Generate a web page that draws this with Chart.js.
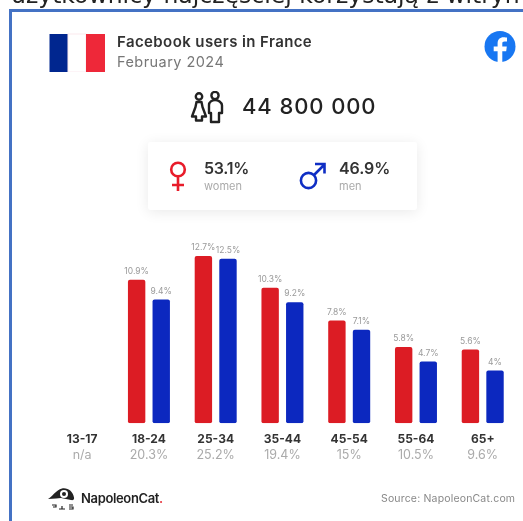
<!DOCTYPE html>
<html><head><meta charset="utf-8">
<script src="https://cdn.jsdelivr.net/npm/chart.js@4"></script>
<style>
html,body{margin:0;padding:0;background:#fff;width:523px;height:521px;overflow:hidden}
#page{position:relative;width:523px;height:521px;overflow:hidden;filter:blur(0.45px);font-family:Inter,"Open Sans",sans-serif}
#page>*{position:absolute}
.t{white-space:nowrap;line-height:1}
canvas{left:0;top:0}
</style></head><body>
<div id="page">
<canvas id="c" width="523" height="521"></canvas>
<div class="t" style="left:11px;top:-17px;font:23.5px 'DejaVu Sans',sans-serif;color:#222;line-height:24px">użytkownicy najczęściej korzystają z witryn</div>
<div style="left:9px;top:9px;width:514px;height:3px;background:#4472c4"></div>
<div style="left:9px;top:9px;width:3px;height:512px;background:#4472c4"></div>
<svg style="left:49px;top:33px" width="57" height="39"><rect x="0.5" y="1" width="19" height="38" fill="#00268f"/><rect x="19" y="1" width="18" height="38" fill="#fff" stroke="#fbe9ee" stroke-width="1"/><rect x="37" y="1" width="19" height="38" fill="#ee2839"/></svg>
<div class="t" id="title" style="left:117px;top:34px;font-size:15px;font-weight:600;color:#333;letter-spacing:.4px">Facebook users in France</div>
<div class="t" id="date" style="left:117px;top:55px;font-size:14.5px;color:#777;letter-spacing:.45px">February 2024</div>
<svg style="left:484px;top:31px" width="32" height="32" viewBox="0 0 32 32"><circle cx="16" cy="15.5" r="15.5" fill="#1877f2"/><path d="M13.6 31V20.2H9.7v-4.6h3.9v-3.2c0-4 2.3-6.1 5.9-6.1 1.7 0 3.2.3 3.5.3v4h-2.4c-1.9 0-2.3.9-2.3 2.2v2.8h4.5l-.6 4.6h-3.9V31z" fill="#fff"/></svg>
<svg style="left:190px;top:91px" width="36" height="34" viewBox="0 0 36 34" fill="none" stroke="#222" stroke-width="2.4" stroke-linejoin="round"><circle cx="9" cy="5.5" r="3.2"/><circle cx="25" cy="4.5" r="3.6"/><path d="M6.5 11h5l1 5 3.5 9.5h-4v4h-6v-4h-4L5.5 16z"/><path d="M19 14c0-3 3-5 6-5s7 2 7 5.5V22h-3v9h-8v-9h-2z"/></svg>
<div class="t" id="total" style="left:242px;top:95px;font-size:22px;font-weight:500;color:#222;letter-spacing:.9px">44 800 000</div>
<div style="left:148px;top:142px;width:269px;height:68px;background:#fff;border-radius:3px;box-shadow:0 2px 14px rgba(0,0,0,.09)"></div>
<svg style="left:165px;top:160px" width="26" height="32" viewBox="0 0 26 32" fill="none" stroke="#e81c2a" stroke-width="2.6"><circle cx="13" cy="9.5" r="6.8"/><path d="M13 16.5V31M7 25h12"/></svg>
<div class="t" id="wp" style="left:204px;top:160px;font-size:16px;font-weight:600;color:#333;letter-spacing:-.3px">53.1%</div>
<div class="t" id="wl" style="left:204px;top:181px;font-size:11px;color:#aaa">women</div>
<svg style="left:298px;top:161px" width="30" height="30" viewBox="0 0 30 30" fill="none" stroke="#0f2ec4" stroke-width="2.6"><circle cx="10.5" cy="19.5" r="7.6"/><path d="M16 14L26 4M17 3h9.5v9.5"/></svg>
<div class="t" id="mp" style="left:339px;top:160px;font-size:16px;font-weight:600;color:#333;letter-spacing:-.1px">46.9%</div>
<div class="t" id="ml" style="left:339px;top:181px;font-size:11px;color:#aaa">men</div>
<svg style="left:47px;top:486px" width="30" height="26" viewBox="0 0 30 26"><path d="M1 13C5 11 9 4 15 2.5c6-1 11 3 12 9 .5 2-1 3-3 2.5L14 12 9 12.5z" fill="#222"/><circle cx="17" cy="8" r="4" fill="#fff"/><circle cx="17" cy="8" r="2" fill="#222"/><path d="M5 19h4v2H6M15 20v3M12 23h6M22 19h4M22 21h4v2h-4" stroke="#222" stroke-width="1.2" fill="none"/></svg>
<div class="t" id="logo" style="left:81px;top:492px;font-size:13px;font-weight:600;color:#222;letter-spacing:-.35px">NapoleonCat<span style="color:#e8414a">.</span></div>
<div class="t" id="src" style="left:381px;top:494px;font-size:10.5px;color:#888;letter-spacing:.17px">Source: NapoleonCat.com</div>
</div>
<script>
const categories = ['13-17','18-24','25-34','35-44','45-54','55-64','65+'];
const shares = ['n/a','20.3%','25.2%','19.4%','15%','10.5%','9.6%'];
const women = [null,10.9,12.7,10.3,7.8,5.8,5.6];
const men = [null,9.4,12.5,9.2,7.1,4.7,4];

const valueLabels = {
  id:'valueLabels',
  afterDatasetsDraw(chart){
    const ctx = chart.ctx;
    ctx.save();
    ctx.font = '8.5px Inter, "Open Sans", sans-serif';
    ctx.fillStyle = '#9a9a9a';
    ctx.textAlign = 'center';
    ctx.textBaseline = 'bottom';
    chart.data.datasets.forEach((ds,i)=>{
      chart.getDatasetMeta(i).data.forEach((bar,j)=>{
        if(ds.data[j]==null) return;
        ctx.fillText(ds.data[j]+'%', bar.x, bar.y-4);
      });
    });
    ctx.restore();
  }
};
new Chart(document.getElementById('c'),{
  type:'bar',
  data:{labels:categories,datasets:[
    {label:'women',data:women,backgroundColor:'#dc1c24',borderRadius:2,borderSkipped:false},
    {label:'men',data:men,backgroundColor:'#0c28bf',borderRadius:2,borderSkipped:false}
  ]},
  plugins:[valueLabels],
  options:{
    responsive:false,animation:false,devicePixelRatio:1,
    layout:{padding:{left:48.8,right:6.9,top:225.75,bottom:0}},
    plugins:{legend:{display:false},tooltip:{enabled:false}},
    datasets:{bar:{barPercentage:0.707,categoryPercentage:0.737}},
    scales:{
      y:{display:false,min:0,max:15},
      x:{position:'bottom',offset:true,grid:{display:false,drawTicks:false},border:{display:false},
         afterFit(a){a.height=23;},
         ticks:{maxRotation:0,autoSkip:false,padding:9,color:'#333',font:{family:'Inter',size:12,weight:'700'}}},
      x2:{type:'category',labels:shares,position:'bottom',offset:true,grid:{display:false,drawTicks:false},border:{display:false},
         afterFit(a){a.height=74.7;},
         ticks:{maxRotation:0,autoSkip:false,padding:1,color:'#aaa',font:{family:'Inter',size:12.5,weight:'400'}}}
    }
  }
});
</script>
</body></html>
